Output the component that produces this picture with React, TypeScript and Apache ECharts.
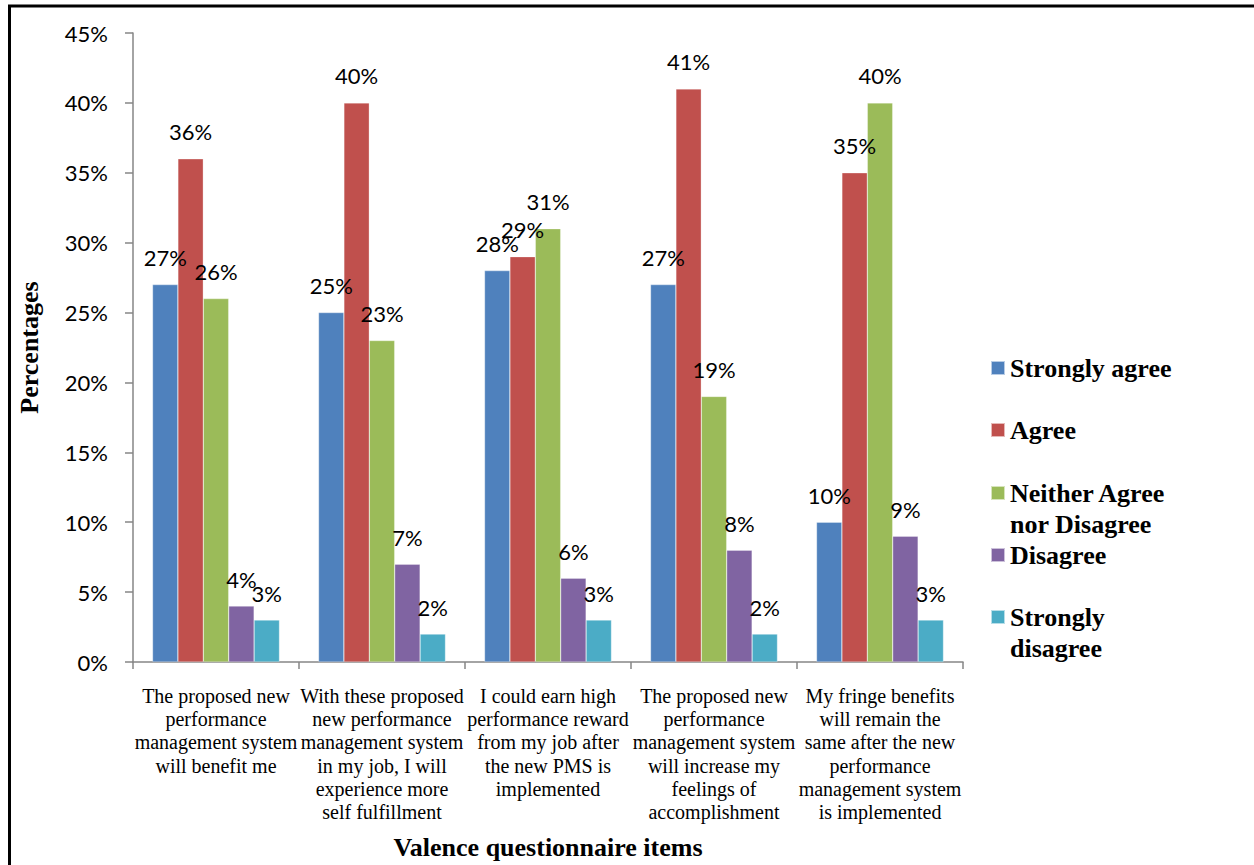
import React, { useEffect, useRef } from "react";
import * as echarts from "echarts";

const categories = [
  "The proposed new\nperformance\nmanagement system\nwill benefit me",
  "With these proposed\nnew performance\nmanagement system\nin my job, I will\nexperience more\nself fulfillment",
  "I could earn high\nperformance reward\nfrom my job after\nthe new PMS is\nimplemented",
  "The proposed new\nperformance\nmanagement system\nwill increase my\nfeelings of\naccomplishment",
  "My fringe benefits\nwill remain the\nsame after the new\nperformance\nmanagement system\nis implemented",
];

const seriesNames = [
  "Strongly agree",
  "Agree",
  "Neither Agree nor Disagree",
  "Disagree",
  "Strongly disagree",
];
const legendLabels = [
  "Strongly agree",
  "Agree",
  "Neither Agree\nnor Disagree",
  "Disagree",
  "Strongly\ndisagree",
];

const stronglyAgree = [27, 25, 28, 27, 10];
const agree = [36, 40, 29, 41, 35];
const neither = [26, 23, 31, 19, 40];
const disagree = [4, 7, 6, 8, 9];
const stronglyDisagree = [3, 2, 3, 2, 3];

const colors = ["#4F81BD", "#C0504D", "#9BBB59", "#8064A2", "#4BACC6"];
const yTicks = { min: 0, max: 45, interval: 5 };

export default function App() {
  const ref = useRef<HTMLDivElement>(null);
  useEffect(() => {
    if (!ref.current) return;
    const chart = echarts.init(ref.current, null, { renderer: "svg" });
    const values = [stronglyAgree, agree, neither, disagree, stronglyDisagree];
    const LH = 31;
    const iconCenters = [368, 430, 493, 555, 617];
    const legends = seriesNames.map((n, i) => {
      const twoLine = legendLabels[i].includes("\n");
      const label = twoLine ? " \n" + legendLabels[i] : legendLabels[i];
      const h = twoLine ? LH * 3 : LH;
      return {
        data: [n],
        left: 990,
        top: iconCenters[i] - h / 2,
        padding: 0,
        orient: "vertical",
        itemWidth: 14,
        itemHeight: 14,
        icon: "rect",
        formatter: () => label,
        selectedMode: false,
        textStyle: {
          fontFamily: "Liberation Serif",
          fontWeight: "bold",
          fontSize: 26,
          color: "#000",
          lineHeight: LH,
        },
      };
    });
    chart.setOption({
      animation: false,
      backgroundColor: "#fff",
      color: colors,
      grid: { left: 133, top: 33, right: 291, bottom: 202 },
      legend: legends,
      graphic: [
        { type: "line", shape: { x1: 8, y1: 6, x2: 1254, y2: 6 }, style: { stroke: "#000", lineWidth: 3 } },
        { type: "line", shape: { x1: 9.5, y1: 5, x2: 9.5, y2: 865 }, style: { stroke: "#000", lineWidth: 3 } },
      ],
      xAxis: {
        type: "category",
        data: categories,
        axisLine: { lineStyle: { color: "#868686", width: 1.5 } },
        axisTick: { show: true, length: 7, lineStyle: { color: "#868686", width: 1.5 } },
        axisLabel: {
          interval: 0,
          margin: 22,
          color: "#000",
          fontFamily: "Liberation Serif",
          fontSize: 20,
          lineHeight: 23.3,
        },
        name: "Valence questionnaire items",
        nameLocation: "middle",
        nameGap: 172,
        nameTextStyle: {
          fontFamily: "Liberation Serif",
          fontWeight: "bold",
          fontSize: 26,
          color: "#000",
        },
      },
      yAxis: {
        type: "value",
        min: yTicks.min,
        max: yTicks.max,
        interval: yTicks.interval,
        splitLine: { show: false },
        axisLine: { show: true, lineStyle: { color: "#868686", width: 1.5 } },
        axisTick: { show: true, length: 8, lineStyle: { color: "#868686", width: 1.5 } },
        axisLabel: {
          formatter: "{value}%",
          margin: 25,
          color: "#000",
          fontFamily: "Lato",
          fontSize: 22,
        },
        name: "Percentages",
        nameLocation: "middle",
        nameGap: 91,
        nameRotate: 90,
        nameTextStyle: {
          fontFamily: "Liberation Serif",
          fontWeight: "bold",
          fontSize: 26,
          color: "#000",
        },
      },
      series: seriesNames.map((n, i) => ({
        name: n,
        type: "bar",
        data: values[i],
        barGap: "0%",
        barCategoryGap: "23.5%",
        itemStyle: { borderColor: "rgba(255,255,255,0.6)", borderWidth: 0.5 },
        label: {
          show: true,
          position: "top",
          distance: 16,
          formatter: "{c}%",
          color: "#000",
          fontFamily: "Lato",
          fontSize: 22,
        },
      })),
    });
    return () => chart.dispose();
  }, []);
  return (
    <div
      ref={ref}
      style={{ position: "fixed", left: 0, top: 0, width: 1254, height: 865 }}
    />
  );
}
